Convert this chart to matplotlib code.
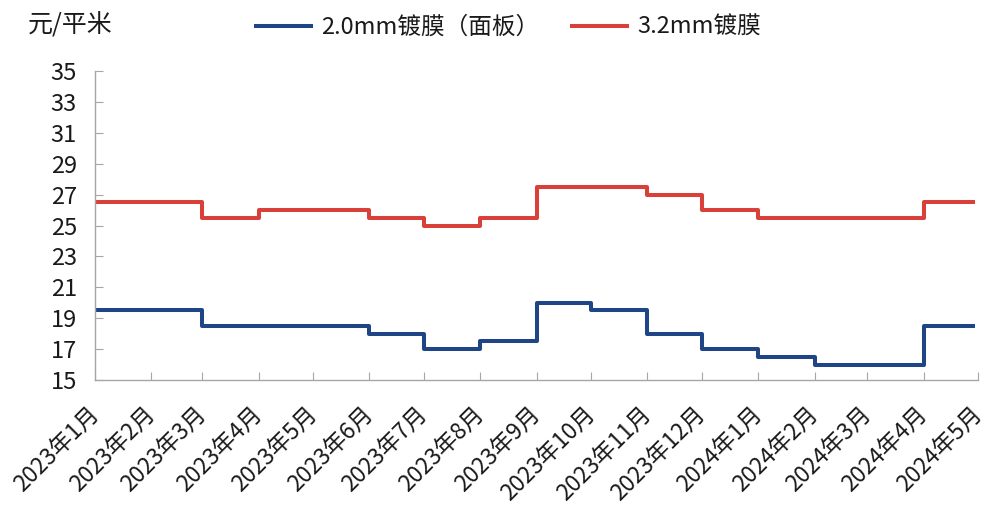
import matplotlib
matplotlib.use("Agg")
import matplotlib.pyplot as plt
import pandas as pd

plt.rcParams['font.family'] = ['Noto Sans CJK SC', 'DejaVu Sans']

# Price change dates (each value holds until the next date); last entry is the latest observation
dates_20 = ["2023-01-01", "2023-03-01", "2023-06-01", "2023-07-01", "2023-08-01",
            "2023-09-01", "2023-10-01", "2023-11-01", "2023-12-01", "2024-01-01",
            "2024-02-01", "2024-04-01", "2024-04-28"]
price_20 = [19.5, 18.5, 18.0, 17.0, 17.5, 20.0, 19.5, 18.0, 17.0, 16.5, 16.0, 18.5, 18.5]

dates_32 = ["2023-01-01", "2023-03-01", "2023-04-01", "2023-06-01", "2023-07-01",
            "2023-08-01", "2023-09-01", "2023-11-01", "2023-12-01", "2024-01-01",
            "2024-04-01", "2024-04-28"]
price_32 = [26.5, 25.5, 26.0, 25.5, 25.0, 25.5, 27.5, 27.0, 26.0, 25.5, 26.5, 26.5]

series_names = ["2.0mm镀膜（面板）", "3.2mm镀膜"]
series_colors = ["#1f4586", "#d8403a"]
unit_label = "元/平米"

y_ticks = list(range(15, 36, 2))
month_ticks = pd.date_range("2023-01-01", "2024-05-01", freq="MS")
month_labels = [f"{d.year}年{d.month}月" for d in month_ticks]

text_color = "#1a1a1a"
axis_color = "#a6a6a6"

fig = plt.figure(figsize=(9.84, 5.09), dpi=100)
ax = fig.add_axes([0.0965, 0.2534, 0.8975, 0.6071])

ax.plot(pd.to_datetime(dates_20), price_20, drawstyle="steps-post",
        color=series_colors[0], lw=2.9, label=series_names[0])
ax.plot(pd.to_datetime(dates_32), price_32, drawstyle="steps-post",
        color=series_colors[1], lw=2.9, label=series_names[1])

ax.set_ylim(15, 35)
ax.set_yticks(y_ticks)
ax.set_xlim(month_ticks[0], month_ticks[-1])
ax.set_xticks(month_ticks)
ax.set_xticklabels(month_labels, rotation=45, ha="right", va="center",
                   rotation_mode="anchor", fontsize=16.5)

for s in ["top", "right"]:
    ax.spines[s].set_visible(False)
for s in ["left", "bottom"]:
    ax.spines[s].set_color(axis_color)
    ax.spines[s].set_linewidth(1.0)

ax.tick_params(axis="both", direction="in", color=axis_color, length=6,
               labelcolor=text_color)
ax.tick_params(axis="y", pad=13, labelsize=17)
ax.tick_params(axis="x", pad=22)

fig.text(0.028, 0.975, unit_label, fontsize=18, color=text_color, va="top", ha="left")

fig.legend(loc="upper center", bbox_to_anchor=(0.517, 1.01), ncol=2, frameon=False,
           fontsize=17, handlelength=2.3, handletextpad=0.45, columnspacing=1.4,
           labelcolor=text_color)

fig.savefig("out.png", dpi=100)
